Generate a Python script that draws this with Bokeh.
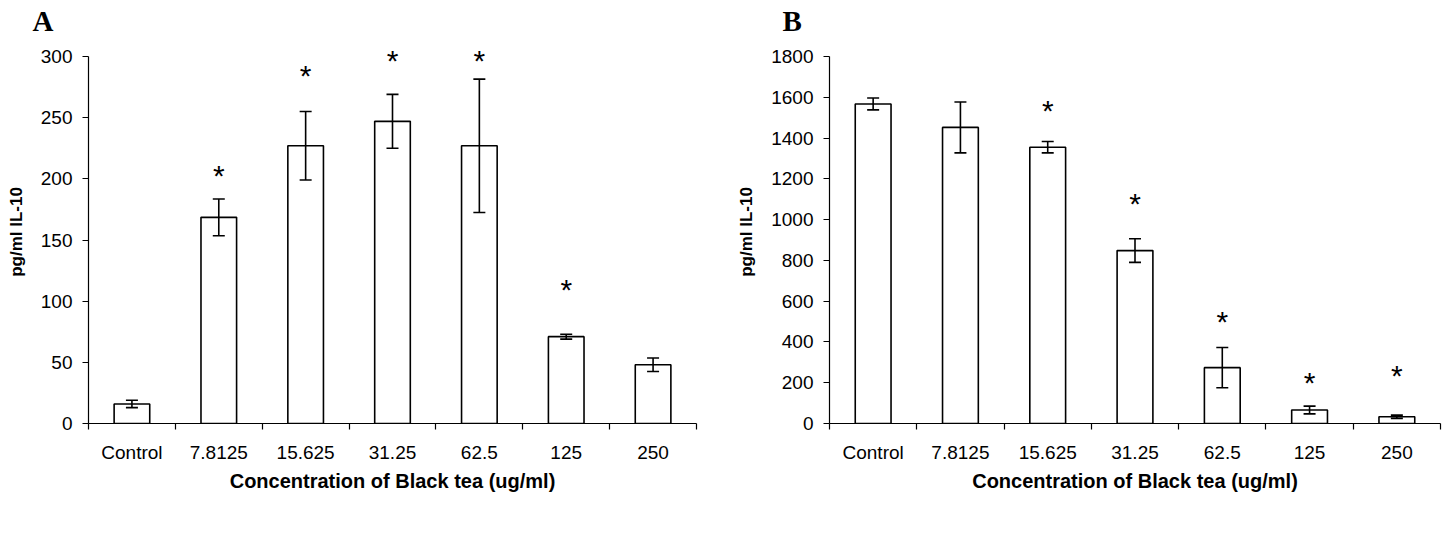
import numpy as np
from bokeh.plotting import figure
from bokeh.layouts import row, column
from bokeh.models import ColumnDataSource, Range1d, FixedTicker, Whisker, TeeHead
from bokeh.core.properties import value
from bokeh.embed import file_html
from bokeh.resources import INLINE

categories = ["Control", "7.8125", "15.625", "31.25", "62.5", "125", "250"]

a_means = [16, 168.5, 227, 247, 227, 71, 48]
a_errors = [3, 15, 28, 22, 54.5, 2, 5.5]
a_stars = [None, 205, 287, 299.5, 299, 112, None]

b_means = [1567, 1452, 1355, 848, 274, 66, 33]
b_errors = [29, 125, 28, 58, 99, 19, 8]
b_stars = [None, None, 1549, 1092, 517, 215, 251]

x_title = "Concentration of Black tea (ug/ml)"
y_title = "pg/ml IL-10"
letters = ["A", "B"]

FONT = "Liberation Sans"
HEAD_H = 40  # height of the strip holding the panel letters


def letter_strip(letter, width, lx):
    p = figure(width=width, height=HEAD_H, x_range=Range1d(0, width), y_range=Range1d(0, HEAD_H),
               output_backend="svg", toolbar_location=None,
               x_axis_location=None, y_axis_location=None,
               min_border_left=0, min_border_right=0, min_border_top=0, min_border_bottom=0)
    p.grid.visible = False
    p.outline_line_color = None
    p.text(x=[lx], y=[HEAD_H - 20], text=[letter], text_font=value("Liberation Serif"),
           text_font_style="bold", text_font_size="29px", text_color="black",
           text_align="left", text_baseline="middle")
    return p


def panel(means, errors, stars, y_max, y_step, width, b_left, b_right, frame_h, axis_span):
    n = len(categories)
    xs = np.arange(n) + 0.5
    y_end = y_max * frame_h / axis_span
    p = figure(width=width, height=490, x_range=Range1d(0, n), y_range=Range1d(0, y_end),
               output_backend="svg", toolbar_location=None,
               min_border_left=b_left, min_border_right=b_right,
               min_border_top=0, min_border_bottom=490 - frame_h)
    p.outline_line_color = None
    p.xgrid.visible = False
    p.ygrid.visible = False
    p.background_fill_color = "white"
    p.border_fill_color = "white"

    src = ColumnDataSource(dict(
        x=xs, top=means,
        upper=[m + e for m, e in zip(means, errors)],
        lower=[m - e for m, e in zip(means, errors)],
    ))
    p.vbar(x="x", top="top", bottom=0, width=0.41, source=src,
           fill_color="white", line_color="black", line_width=1.6)
    w = Whisker(base="x", upper="upper", lower="lower", source=src,
                line_color="black", line_width=1.6, level="overlay",
                upper_head=TeeHead(size=12, line_color="black", line_width=1.6),
                lower_head=TeeHead(size=12, line_color="black", line_width=1.6))
    p.add_layout(w)

    sx = [x for x, s in zip(xs, stars) if s is not None]
    sy = [s for s in stars if s is not None]
    ssrc = ColumnDataSource(dict(x=sx, y=sy, t=["*"] * len(sx)))
    p.text(x="x", y="y", text="t", source=ssrc, text_font=value(FONT),
           text_font_size="30px", text_align="center", text_baseline="middle",
           y_offset=3, text_color="black")

    xa = p.xaxis[0]
    xa.ticker = FixedTicker(ticks=list(xs), minor_ticks=list(range(n + 1)))
    xa.major_label_overrides = {float(x): c for x, c in zip(xs, categories)}
    xa.major_tick_line_color = None
    xa.major_tick_out = 0
    xa.major_tick_in = 0
    xa.minor_tick_out = 6
    xa.minor_tick_in = 0
    xa.minor_tick_line_color = "black"
    xa.minor_tick_line_width = 1.2
    xa.axis_line_color = "black"
    xa.axis_line_width = 1.2
    xa.major_label_standoff = 12
    xa.major_label_text_font = FONT
    xa.major_label_text_font_size = "19px"
    xa.major_label_text_color = "black"
    xa.axis_label = x_title
    xa.axis_label_text_font = FONT
    xa.axis_label_text_font_style = "bold"
    xa.axis_label_text_font_size = "20px"
    xa.axis_label_text_color = "black"
    xa.axis_label_standoff = 4

    ya = p.yaxis[0]
    ya.ticker = FixedTicker(ticks=list(range(0, y_max + 1, y_step)))
    ya.bounds = (0, y_max)
    ya.minor_tick_line_color = None
    ya.major_tick_out = 6
    ya.major_tick_in = 0
    ya.major_tick_line_color = "black"
    ya.major_tick_line_width = 1.2
    ya.axis_line_color = "black"
    ya.axis_line_width = 1.2
    ya.major_label_standoff = 10
    ya.major_label_text_font = FONT
    ya.major_label_text_font_size = "19px"
    ya.major_label_text_color = "black"
    ya.axis_label = y_title
    ya.axis_label_text_font = FONT
    ya.axis_label_text_font_style = "bold"
    ya.axis_label_text_font_size = "17px"
    ya.axis_label_text_color = "black"
    ya.axis_label_standoff = 12
    return p


pa = panel(a_means, a_errors, a_stars, 300, 50, 720, 88, 24, 423 - HEAD_H, 367)
pb = panel(b_means, b_errors, b_stars, 1800, 200, 726, 109, 6, 424 - HEAD_H, 368)
ha = letter_strip(letters[0], 720, 32)
hb = letter_strip(letters[1], 726, 62)

layout = column(row(ha, hb), row(pa, pb))
open("out.html", "w").write(file_html(layout, INLINE))
